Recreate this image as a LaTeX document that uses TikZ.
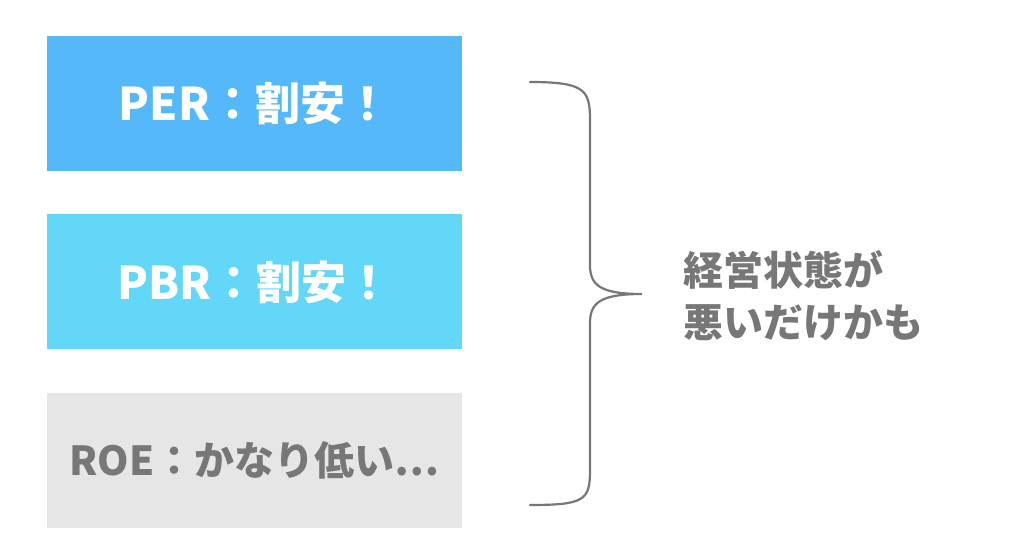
\documentclass[tikz,border=0pt]{standalone}
\usepackage{fontspec}
\newfontfamily\cjk{Noto Sans CJK JP}
\usetikzlibrary{positioning}
\definecolor{perblue}{HTML}{55B9F9}
\definecolor{pbrblue}{HTML}{63D7F7}
\definecolor{roegray}{HTML}{E6E6E6}
\definecolor{textgray}{HTML}{777777}
\tikzset{
  ratio/.style={
    rectangle,
    minimum width=415pt,
    minimum height=135pt,
    inner sep=0pt,
    text centered,
    font=\cjk\bfseries\fontsize{45pt}{50pt}\selectfont
  },
  brace/.style={
    draw=textgray,
    line width=2.2pt,
    line cap=round
  }
}
\begin{document}
\begin{tikzpicture}[x=1pt,y=-1pt]
\useasboundingbox (0,0) rectangle (1024,558);

% boxes
\node[ratio, fill=perblue, text=white] (per) at (254.5,103.5) {PER：割安！};
\node[ratio, fill=pbrblue, text=white, below = 43pt of per] (pbr) {PBR：割安！};
\node[ratio, fill=roegray, text=textgray, below = 43pt of pbr,
  font=\cjk\bfseries\fontsize{40pt}{50pt}\selectfont] (roe) {ROE：かなり低い⋯};

% brace
\coordinate (btop) at (530,82);
\coordinate (btip) at (642,294);
\coordinate (bbot) at (530,505);
\draw[brace] (btop) .. controls (585,82) and (590,90) .. (590,120)
  -- (590,265) .. controls (590,285) and (600,294) .. (btip)
  .. controls (600,294) and (590,303) .. (590,323)
  -- (590,470) .. controls (590,500) and (585,505) .. (bbot);

% note
\node[anchor=west, align=left, text=textgray,
  font=\cjk\bfseries\fontsize{40pt}{52pt}\selectfont] (note) at (680,296)
  {経営状態が\\悪いだけかも};

\end{tikzpicture}
\end{document}
